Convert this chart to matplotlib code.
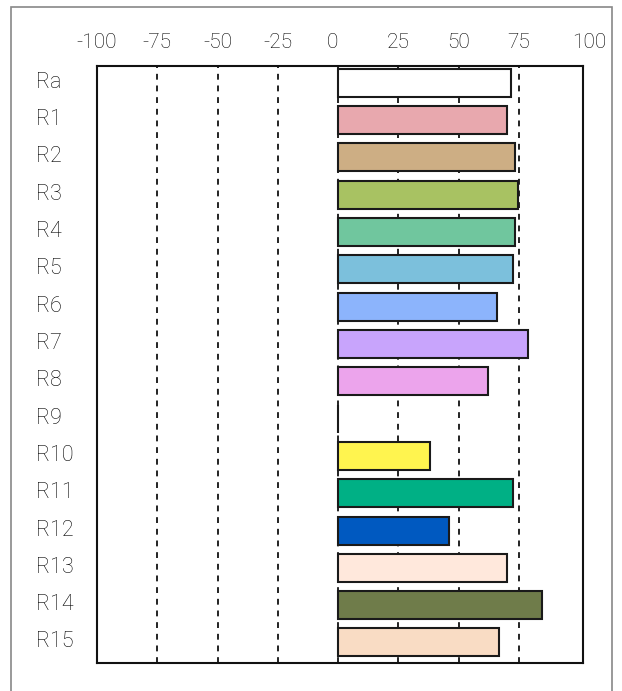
import matplotlib.pyplot as plt
import matplotlib.transforms as mtransforms
from matplotlib.patches import Rectangle

plt.rcParams['font.family'] = ['Roboto', 'DejaVu Sans']

# data
rows = ['Ra', 'R1', 'R2', 'R3', 'R4', 'R5', 'R6', 'R7', 'R8', 'R9',
        'R10', 'R11', 'R12', 'R13', 'R14', 'R15']
values = [71.5, 70, 73.3, 74.5, 73.3, 72.5, 65.8, 78.7, 62, 0,
          38, 72.5, 45.8, 70, 84.5, 66.5]
colors = ['#ffffff', '#e8a8ae', '#cdae84', '#a8c262', '#70c69e', '#7cc0dc',
          '#8cb4fc', '#c8a4fc', '#eca4ec', '#ffffff', '#fff44f', '#00b085',
          '#0059c0', '#ffe8dc', '#6f7c4a', '#f9dcc4']
xticks = [-100, -75, -50, -25, 0, 25, 50, 75, 100]

W, H = 622, 691
fig = plt.figure(figsize=(W / 100, H / 100), dpi=100)
ax = fig.add_axes([97 / W, 1 - 663 / H, (583 - 97) / W, (663 - 66) / H])

# outer frame
fig.patches.append(Rectangle((11 / W, -0.05), (612 - 11) / W, 1.05 - 7 / H,
                             transform=fig.transFigure, fill=False,
                             edgecolor='#888888', linewidth=1.2))

ypos = list(range(len(rows)))
ax.barh(ypos, values, height=0.75, color=colors, edgecolor='#1a1a1a',
        linewidth=1.5, zorder=3)

for x in [-75, -50, -25, 0, 25, 50, 75]:
    ax.axvline(x, color='#222222', linestyle=(0, (3, 3)), linewidth=1.4,
               zorder=1)

ax.set_xlim(-100, 101.5)
ax.set_ylim(len(rows) - 0.45, -0.45)
ax.set_yticks(ypos)
ax.set_yticklabels(rows, fontsize=15.5, color='#000000', ha='left',
                   fontweight='light')
ax.tick_params(axis='y', length=0, pad=44)

ax.xaxis.tick_top()
ax.set_xticks(xticks)
ax.set_xticklabels([str(t) for t in xticks], fontsize=15, color='#000000',
                   fontweight='light')
ax.tick_params(axis='x', length=0, pad=10)

# small nudges seen in the reference labels
shifts = {'0': -6, '100': 10}
for lab in ax.get_xticklabels():
    dx = shifts.get(lab.get_text(), 0)
    if dx:
        lab.set_transform(lab.get_transform() +
                          mtransforms.ScaledTranslation(dx / 100, 0,
                                                        fig.dpi_scale_trans))
for lab in ax.get_yticklabels():
    lab.set_transform(lab.get_transform() +
                      mtransforms.ScaledTranslation(0, 3 / 100,
                                                    fig.dpi_scale_trans))

for s in ax.spines.values():
    s.set_linewidth(1.5)
    s.set_color('#111111')

fig.savefig('out.png', dpi=100)
